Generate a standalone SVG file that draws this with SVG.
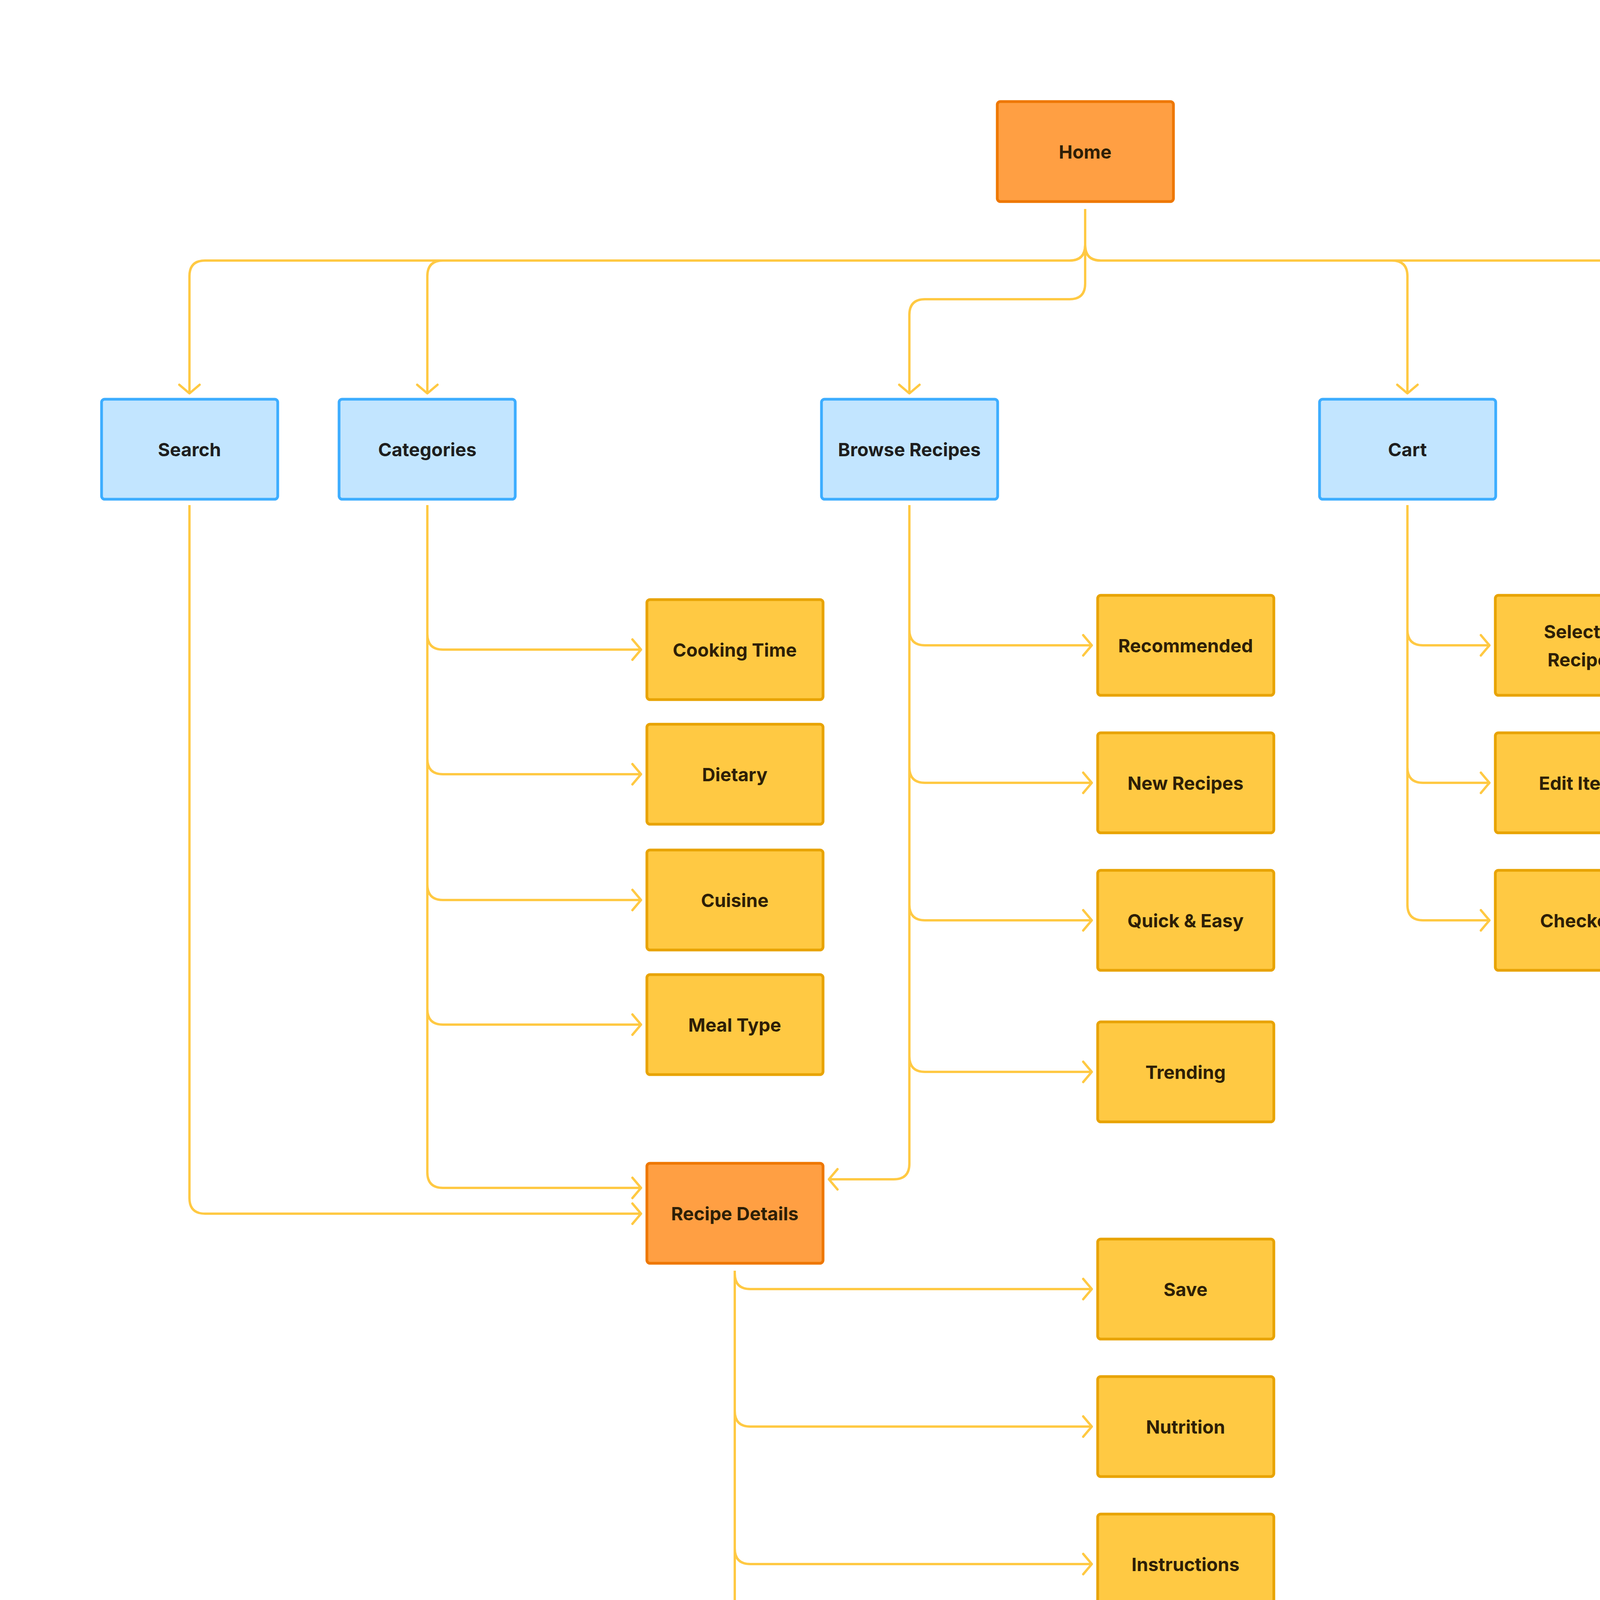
<svg xmlns="http://www.w3.org/2000/svg" width="5726" height="5150" viewBox="0 0 5726 5150">
<style>
.n rect{stroke-width:7}
.h rect{fill:#FF9F43;stroke:#EE7700}
.b rect{fill:#C2E5FF;stroke:#3DADFF}
.y rect{fill:#FFC943;stroke:#E8A302}
text{font-family:Inter,"Liberation Sans",sans-serif;font-weight:700;font-size:47px;text-anchor:middle;dominant-baseline:central;fill:#2E1F07}
.b text{fill:#1E1E1E}
#conn path{fill:none;stroke:#FFC943;stroke-width:6;marker-end:url(#a)}
</style>
<defs><marker id="a" markerUnits="userSpaceOnUse" viewBox="-30 -30 40 60" markerWidth="40" markerHeight="60" refX="0" refY="0" orient="auto"><path d="M-22 -26 L0 0 L-22 26" fill="none" stroke="#FFC943" stroke-width="6" stroke-linecap="round" stroke-linejoin="round"/></marker></defs>
<rect width="5726" height="5150" fill="#fff"/>
<g id="conn">
<path d="M2778 535 V627 Q2778 667 2738 667 H525 Q485 667 485 707 V1007"/>
<path d="M2778 535 V627 Q2778 667 2738 667 H1134 Q1094 667 1094 707 V1007"/>
<path d="M2778 535 V726 Q2778 766 2738 766 H2368 Q2328 766 2328 806 V1007"/>
<path d="M2778 535 V627 Q2778 667 2818 667 H3563 Q3603 667 3603 707 V1007"/>
<path d="M2778 535 V627 Q2778 667 2818 667 H4607 Q4647 667 4647 707 V1007"/>
<path d="M1094 1293 V1623 Q1094 1663 1134 1663 H1641"/>
<path d="M1094 1293 V1942 Q1094 1982 1134 1982 H1641"/>
<path d="M1094 1293 V2264 Q1094 2304 1134 2304 H1641"/>
<path d="M1094 1293 V2583 Q1094 2623 1134 2623 H1641"/>
<path d="M1094 1293 V3001 Q1094 3041 1134 3041 H1641"/>
<path d="M485 1293 V3067 Q485 3107 525 3107 H1641"/>
<path d="M2328 1293 V2979 Q2328 3019 2288 3019 H2122"/>
<path d="M2328 1293 V1612 Q2328 1652 2368 1652 H2795"/>
<path d="M2328 1293 V1964 Q2328 2004 2368 2004 H2795"/>
<path d="M2328 1293 V2316 Q2328 2356 2368 2356 H2795"/>
<path d="M2328 1293 V2704 Q2328 2744 2368 2744 H2795"/>
<path d="M3603 1293 V1612 Q3603 1652 3643 1652 H3813"/>
<path d="M3603 1293 V1964 Q3603 2004 3643 2004 H3813"/>
<path d="M3603 1293 V2316 Q3603 2356 3643 2356 H3813"/>
<path d="M4647 1293 V1623 Q4647 1663 4687 1663 H5018"/>
<path d="M4647 1293 V1964 Q4647 2004 4687 2004 H5018"/>
<path d="M4647 1293 V2326 Q4647 2366 4687 2366 H5018"/>
<path d="M4647 1293 V2704 Q4647 2744 4687 2744 H5018"/>
<path d="M4647 1293 V3077 Q4647 3117 4687 3117 H5018"/>
<path d="M1881 3253 V3260 Q1881 3300 1921 3300 H2795"/>
<path d="M1881 3253 V3612 Q1881 3652 1921 3652 H2795"/>
<path d="M1881 3253 V3964 Q1881 4004 1921 4004 H2795"/>
<path d="M1881 3253 V4348 Q1881 4388 1921 4388 H2795"/>
<path d="M1881 3253 V4733 Q1881 4773 1921 4773 H2795"/>
</g>
<g id="home" class="n h"><rect x="2553" y="260" width="451" height="256" rx="8"/><text x="2778" y="388">Home</text></g>
<g id="search" class="n b"><rect x="260" y="1022" width="451" height="256" rx="8"/><text x="485" y="1150">Search</text></g>
<g id="categories" class="n b"><rect x="868" y="1022" width="451" height="256" rx="8"/><text x="1094" y="1150">Categories</text></g>
<g id="browse" class="n b"><rect x="2103" y="1022" width="451" height="256" rx="8"/><text x="2328" y="1150">Browse Recipes</text></g>
<g id="cart" class="n b"><rect x="3378" y="1022" width="451" height="256" rx="8"/><text x="3603" y="1150">Cart</text></g>
<g id="account" class="n b"><rect x="4422" y="1022" width="451" height="256" rx="8"/><text x="4647" y="1150">Account</text></g>
<g id="cooking" class="n y"><rect x="1656" y="1535" width="451" height="256" rx="8"/><text x="1881" y="1663">Cooking Time</text></g>
<g id="dietary" class="n y"><rect x="1656" y="1854" width="451" height="256" rx="8"/><text x="1881" y="1982">Dietary</text></g>
<g id="cuisine" class="n y"><rect x="1656" y="2176" width="451" height="256" rx="8"/><text x="1881" y="2304">Cuisine</text></g>
<g id="mealtype" class="n y"><rect x="1656" y="2495" width="451" height="256" rx="8"/><text x="1881" y="2623">Meal Type</text></g>
<g id="recipedetails" class="n h"><rect x="1656" y="2978" width="451" height="256" rx="8"/><text x="1881" y="3106">Recipe Details</text></g>
<g id="recommended" class="n y"><rect x="2810" y="1524" width="451" height="256" rx="8"/><text x="3035" y="1652">Recommended</text></g>
<g id="newrecipes" class="n y"><rect x="2810" y="1876" width="451" height="256" rx="8"/><text x="3035" y="2004">New Recipes</text></g>
<g id="quick" class="n y"><rect x="2810" y="2228" width="451" height="256" rx="8"/><text x="3035" y="2356">Quick &amp; Easy</text></g>
<g id="trending" class="n y"><rect x="2810" y="2616" width="451" height="256" rx="8"/><text x="3035" y="2744">Trending</text></g>
<g id="selected" class="n y"><rect x="3828" y="1524" width="451" height="256" rx="8"/><text x="4053" y="1616">Selected</text><text x="4053" y="1688">Recipes</text></g>
<g id="edit" class="n y"><rect x="3828" y="1876" width="451" height="256" rx="8"/><text x="4053" y="2004">Edit Items</text></g>
<g id="checkout" class="n y"><rect x="3828" y="2228" width="451" height="256" rx="8"/><text x="4053" y="2356">Checkout</text></g>
<g id="payment" class="n y"><rect x="5033" y="1535" width="451" height="256" rx="8"/><text x="5258" y="1663">Payment</text></g>
<g id="help" class="n y"><rect x="5033" y="1876" width="451" height="256" rx="8"/><text x="5258" y="2004">Help</text></g>
<g id="preferences" class="n y"><rect x="5033" y="2238" width="451" height="256" rx="8"/><text x="5258" y="2366">Preferences</text></g>
<g id="profile" class="n y"><rect x="5033" y="2616" width="451" height="256" rx="8"/><text x="5258" y="2744">Profile</text></g>
<g id="orders" class="n y"><rect x="5033" y="2989" width="451" height="256" rx="8"/><text x="5258" y="3117">Orders</text></g>
<g id="save" class="n y"><rect x="2810" y="3172" width="451" height="256" rx="8"/><text x="3035" y="3300">Save</text></g>
<g id="nutrition" class="n y"><rect x="2810" y="3524" width="451" height="256" rx="8"/><text x="3035" y="3652">Nutrition</text></g>
<g id="instructions" class="n y"><rect x="2810" y="3876" width="451" height="256" rx="8"/><text x="3035" y="4004">Instructions</text></g>
<g id="ingredients" class="n y"><rect x="2810" y="4260" width="451" height="256" rx="8"/><text x="3035" y="4388">Ingredients</text></g>
<g id="addtocart" class="n y"><rect x="2810" y="4645" width="451" height="256" rx="8"/><text x="3035" y="4773">Add to Cart</text></g>
</svg>
